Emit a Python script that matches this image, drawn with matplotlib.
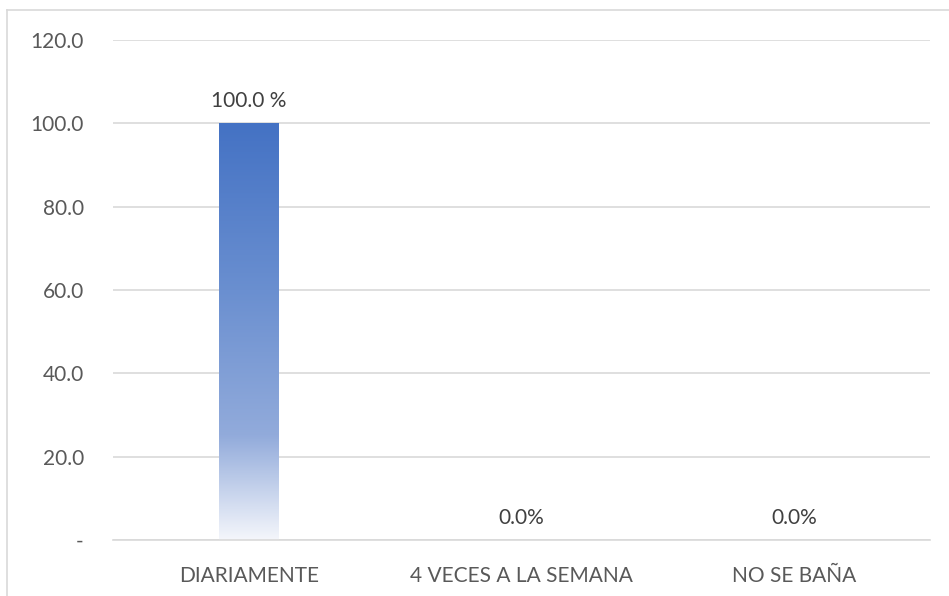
import numpy as np
import matplotlib
matplotlib.use('Agg')
import matplotlib.pyplot as plt
import matplotlib.colors as mcolors
from matplotlib.lines import Line2D

# data
categories = ['DIARIAMENTE', '4 VECES A LA SEMANA', 'NO SE BAÑA']
values = [100.0, 0.0, 0.0]
value_labels = ['100.0 %', '0.0%', '0.0%']
y_ticks = [0, 20, 40, 60, 80, 100, 120]
y_tick_labels = ['-', '20.0', '40.0', '60.0', '80.0', '100.0', '120.0']

TEXT = '#595959'
GRID = '#D9D9D9'

plt.rcParams['font.family'] = ['Lato', 'DejaVu Sans']

W, H = 949, 596
fig = plt.figure(figsize=(W / 100, H / 100), dpi=100)
fig.patch.set_facecolor('white')

# chart area border (only top and left visible in the crop)
fig.add_artist(Line2D([7 / W, 7 / W], [0, 1 - 10 / H], color='#D9D9D9', lw=1.2))
fig.add_artist(Line2D([7 / W, 1], [1 - 10 / H, 1 - 10 / H], color='#D9D9D9', lw=1.2))

ax = fig.add_axes([113 / W, 1 - 540 / H, (930 - 113) / W, (540 - 40) / H])

x = np.arange(len(categories))
bars = ax.bar(x, values, width=0.22, color='none', edgecolor='none', zorder=2)

# vertical gradient fill, dark at top fading to near white at bottom
grad_cmap = mcolors.LinearSegmentedColormap.from_list(
    'bar_grad', [(0.0, '#F4F6FB'), (0.25, '#92ABDB'), (0.6, '#6A8FD0'), (1.0, '#4472C4')])
grad = np.linspace(0, 1, 256).reshape(-1, 1)
for b in bars:
    h = b.get_height()
    if h <= 0:
        continue
    x0 = b.get_x()
    im = ax.imshow(grad, cmap=grad_cmap, origin='lower', aspect='auto',
                   extent=[x0, x0 + b.get_width(), 0, h], zorder=2)
    im.set_clip_path(b)

for xi, v, lab in zip(x, values, value_labels):
    ax.text(xi, v + 3, lab, ha='center', va='bottom', fontsize=15, color='#404040')

ax.set_xlim(-0.5, len(categories) - 0.5)
ax.set_ylim(0, 120)
ax.set_yticks(y_ticks)
ax.set_yticklabels(y_tick_labels)
ax.set_xticks(x)
ax.set_xticklabels(categories)
ax.tick_params(axis='both', length=0, labelsize=15, colors=TEXT)
ax.tick_params(axis='x', pad=19)
ax.tick_params(axis='y', pad=21)

ax.grid(axis='y', color=GRID, linewidth=1.2)
ax.set_axisbelow(True)
for s in ('top', 'right', 'left'):
    ax.spines[s].set_visible(False)
ax.spines['bottom'].set_color(GRID)
ax.spines['bottom'].set_linewidth(1.2)

fig.savefig('out.png', dpi=100, facecolor='white')
